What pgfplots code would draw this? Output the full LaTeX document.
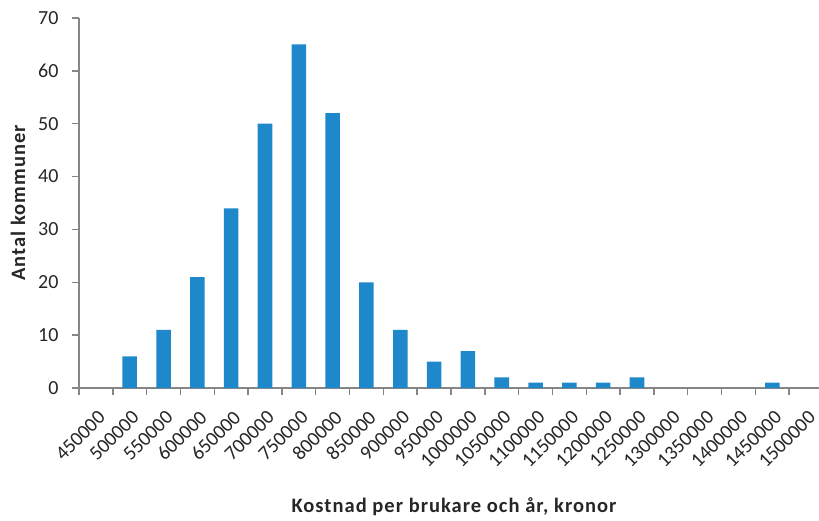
\documentclass[border=0pt]{standalone}
\usepackage{fontspec}
\setmainfont{Carlito}
\usepackage{pgfplots}
\pgfplotsset{compat=1.18}

\definecolor{barblue}{RGB}{31,136,202}
\definecolor{axisgray}{RGB}{134,134,134}
\definecolor{textgray}{RGB}{38,38,38}

\newfontfamily\titlefont[LetterSpace=5]{Carlito}

\begin{document}
\begin{tikzpicture}
\begin{axis}[
  at={(79pt,132pt)}, anchor=south west,
  scale only axis, width=744pt, height=370pt,
  xmin=-0.5, xmax=21.5, ymin=0, ymax=70,
  axis lines=left,
  axis line style={-, draw=axisgray, line width=1.5pt},
  tick style={draw=axisgray, line width=1.5pt},
  tick align=outside, major tick length=7pt,
  xtick={-0.5,0.5,...,21.5}, xticklabels={},
  extra x ticks={0,1,...,21},
  extra x tick labels={450000,500000,550000,600000,650000,700000,750000,800000,850000,900000,950000,1000000,1050000,1100000,1150000,1200000,1250000,1300000,1350000,1400000,1450000,1500000},
  extra x tick style={major tick length=0pt,
    xticklabel style={inner sep=0pt, xshift=6pt, yshift=-26pt, rotate=45, anchor=east}},
  ytick={0,10,...,70},
  yticklabel style={xshift=-10pt},
  ticklabel style={font=\fontsize{20}{24}\selectfont, text=textgray},
  /pgf/number format/assume math mode=true,
  ylabel={Antal kommuner},
  xlabel={Kostnad per brukare och år, kronor},
  every axis y label/.style={at={(axis description cs:0,0.5)}, xshift=-61pt,
    rotate=90, anchor=center, inner sep=0pt,
    font=\titlefont\fontsize{20.5}{24}\selectfont\bfseries, text=textgray},
  every axis x label/.style={at={(axis description cs:0.5,0)}, anchor=center,
    inner sep=0pt, yshift=-119pt, xshift=3pt,
    font=\titlefont\fontsize{20.5}{24}\selectfont\bfseries, text=textgray},
  clip=false,
]
\addplot[ybar, bar width=0.43, fill=barblue, draw=none] coordinates {
  (0,0) (1,6) (2,11) (3,21) (4,34) (5,50) (6,65) (7,52) (8,20) (9,11)
  (10,5) (11,7) (12,2) (13,1) (14,1) (15,1) (16,2) (17,0) (18,0) (19,0)
  (20,1) (21,0)
};
\end{axis}
\pgfresetboundingbox
\path[use as bounding box] (0,0) rectangle (819pt,520pt);
\end{tikzpicture}
\end{document}
